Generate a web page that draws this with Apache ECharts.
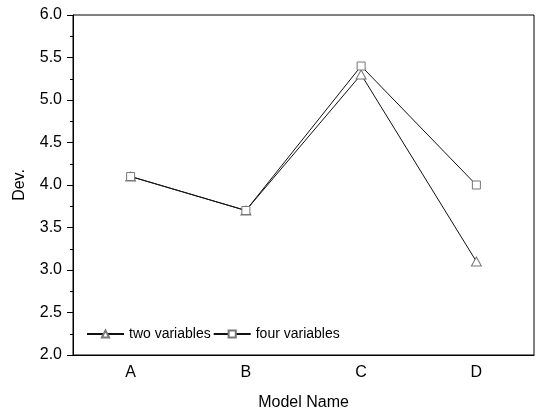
<!DOCTYPE html>
<html>
<head>
<meta charset="utf-8">
<script src="https://cdn.jsdelivr.net/npm/echarts@6/dist/echarts.min.js"></script>
<style>
  html, body { margin: 0; padding: 0; background: #fff; }
  #chart { width: 538px; height: 409px; }
</style>
</head>
<body>
<div id="chart"></div>
<script>
const models = ['A', 'B', 'C', 'D']
const twoVariables = [4.1, 3.7, 5.3, 3.1]
const fourVariables = [4.1, 3.7, 5.4, 4.0]

const font = 'Arial, "Liberation Sans", sans-serif'
const chart = echarts.init(document.getElementById('chart'))

chart.setOption({
    animation: false,
    backgroundColor: '#fff',
    grid: {
        left: 73,
        right: 4,
        top: 15,
        bottom: 54,
        outerBoundsMode: 'none',
        containLabel: false,
        show: true,
        borderColor: '#000',
        borderWidth: 1
    },
    legend: {
        left: 86,
        top: 327,
        padding: 0,
        itemWidth: 37,
        itemHeight: 9,
        itemGap: 2,
        textStyle: { fontFamily: font, fontSize: 14, color: '#000' },
        data: ['two variables', 'four variables']
    },
    xAxis: {
        type: 'category',
        data: models,
        boundaryGap: true,
        name: 'Model Name',
        nameLocation: 'middle',
        nameGap: 40,
        nameTextStyle: { fontFamily: font, fontSize: 16, color: '#000' },
        axisLine: { lineStyle: { color: '#000', width: 1 } },
        axisTick: { inside: true, length: 6, alignWithLabel: true, lineStyle: { color: '#000' } },
        axisLabel: { fontFamily: font, fontSize: 16, color: '#000', margin: 10 },
        splitLine: { show: false }
    },
    yAxis: {
        type: 'value',
        min: 2,
        max: 6,
        interval: 0.5,
        name: 'Dev.',
        nameLocation: 'middle',
        nameGap: 45,
        nameTextStyle: { fontFamily: font, fontSize: 16, color: '#000' },
        axisLine: { show: true, lineStyle: { color: '#000', width: 1 } },
        axisTick: { show: true, length: 6, lineStyle: { color: '#000' } },
        minorTick: { show: true, splitNumber: 2, length: 3, lineStyle: { color: '#000' } },
        axisLabel: {
            fontFamily: font, fontSize: 16, color: '#000', margin: 11,
            formatter: v => v.toFixed(1)
        },
        splitLine: { show: false }
    },
    series: [
        {
            name: 'two variables',
            type: 'line',
            data: twoVariables,
            symbol: 'triangle',
            symbolSize: [10, 9],
            lineStyle: { color: '#111', width: 1 },
            itemStyle: { color: '#fff', borderColor: '#777', borderWidth: 1 },
            z: 2
        },
        {
            name: 'four variables',
            type: 'line',
            data: fourVariables,
            symbol: 'rect',
            symbolSize: 8,
            lineStyle: { color: '#111', width: 1 },
            itemStyle: { color: '#fff', borderColor: '#777', borderWidth: 1 },
            z: 3
        }
    ]
})
</script>
</body>
</html>
